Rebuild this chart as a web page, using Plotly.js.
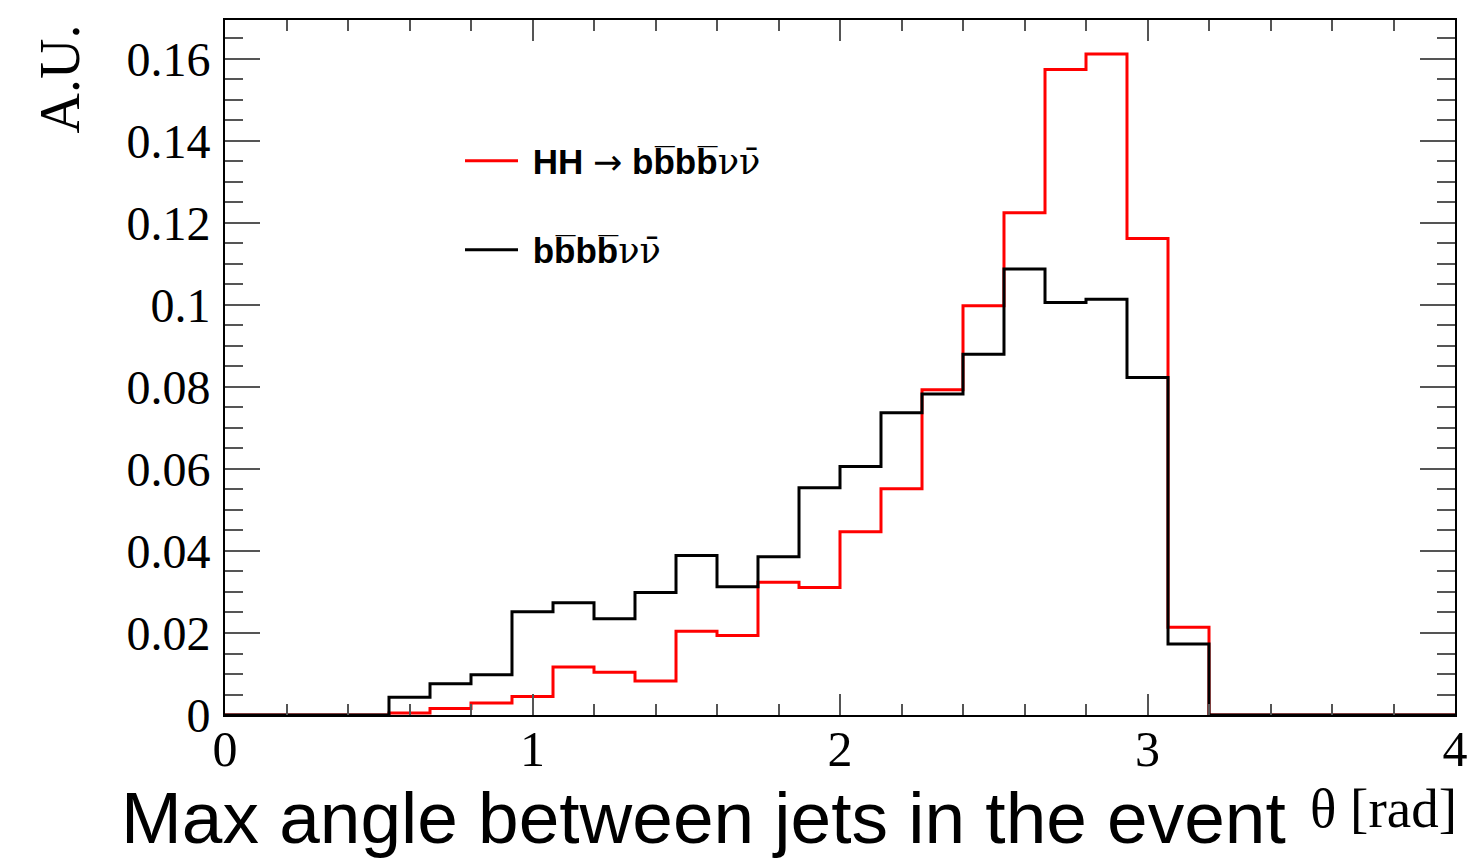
<!DOCTYPE html>
<html>
<head>
<meta charset="utf-8">
<script src="https://cdn.plot.ly/plotly-3.0.1.min.js"></script>
<style>
  html, body { margin: 0; padding: 0; background: #ffffff; }
  #chart { width: 1476px; height: 859px; }
</style>
</head>
<body>
<div id="chart"></div>
<script>
// Lower edges of the filled bins (bin width 4/30 rad), plus the final upper edge
const binEdges = [0.5333, 0.6667, 0.8, 0.9333, 1.0667, 1.2, 1.3333, 1.4667, 1.6, 1.7333,
                  1.8667, 2.0, 2.1333, 2.2667, 2.4, 2.5333, 2.6667, 2.8, 2.9333, 3.0667, 3.2];

// Normalised bin contents (A.U.)
const signalHH = [0.0005, 0.0016, 0.0029, 0.0045, 0.0117, 0.0104, 0.0083, 0.0204, 0.0194, 0.0324,
                  0.0311, 0.0447, 0.0552, 0.0793, 0.0998, 0.1225, 0.1574, 0.1612, 0.1162, 0.0214];
const background = [0.0043, 0.0076, 0.0098, 0.0252, 0.0274, 0.0235, 0.0299, 0.0389, 0.0313, 0.0386,
                    0.0554, 0.0606, 0.0737, 0.0783, 0.0880, 0.1088, 0.1006, 0.1014, 0.0823, 0.0173];

const xRange = [0, 4];
const yRange = [0, 0.1695];
const yTicks = [0, 0.02, 0.04, 0.06, 0.08, 0.1, 0.12, 0.14, 0.16];
const yTickText = ['0', '0.02', '0.04', '0.06', '0.08', '0.1', '0.12', '0.14', '0.16'];

const arrow = '<span style="font-family:DejaVu Sans">\u2192</span>';
const bbbb = '<b>bb\u0305bb\u0305</b>';
const nunu = '<span style="font-family:DejaVu Serif">\u03bd\u03bd\u0304</span>';
const labelHH = '\u00a0<b>HH</b> ' + arrow + ' ' + bbbb + nunu;
const labelBkg = '\u00a0' + bbbb + nunu;

// Turn bin contents into a histogram outline running along zero outside the filled range
function stepOutline(edges, values) {
  const x = [xRange[0]];
  const y = [0];
  for (let i = 0; i < values.length; i++) {
    x.push(edges[i]);
    y.push(values[i]);
  }
  x.push(edges[edges.length - 1]);
  y.push(0);
  x.push(xRange[1]);
  y.push(0);
  return { x, y };
}

const hh = stepOutline(binEdges, signalHH);
const bkg = stepOutline(binEdges, background);

const traces = [
  {
    type: 'scatter', mode: 'lines', name: labelHH,
    x: hh.x, y: hh.y,
    line: { shape: 'hv', color: '#ff0000', width: 3 },
    legend: 'legend', hoverinfo: 'skip'
  },
  {
    type: 'scatter', mode: 'lines', name: labelBkg,
    x: bkg.x, y: bkg.y,
    line: { shape: 'hv', color: '#000000', width: 3 },
    legend: 'legend2', hoverinfo: 'skip'
  }
];

const serif = 'Liberation Serif, Times New Roman, serif';
const plotW = 1230, plotH = 695;

const legendBase = {
  bgcolor: 'rgba(0,0,0,0)', borderwidth: 0,
  font: { family: 'Liberation Sans, Arial, sans-serif', size: 35, color: '#000' },
  xanchor: 'left', yanchor: 'middle', itemwidth: 53
};

const layout = {
  width: 1476, height: 859,
  margin: { l: 225, r: 21, t: 20, b: 144 },
  paper_bgcolor: '#ffffff', plot_bgcolor: '#ffffff',
  showlegend: true,
  legend: Object.assign({}, legendBase, { x: (460 - 225) / plotW, y: (715 - 161) / plotH }),
  legend2: Object.assign({}, legendBase, { x: (460 - 225) / plotW, y: (715 - 250) / plotH }),
  xaxis: {
    range: xRange, dtick: 1, tick0: 0,
    showgrid: false, zeroline: false,
    showline: true, linecolor: '#000', linewidth: 2, mirror: 'allticks',
    ticks: 'inside', ticklen: 21, tickwidth: 2, tickcolor: '#555',
    minor: { dtick: 0.2, ticks: 'inside', ticklen: 11, tickwidth: 2, tickcolor: '#555', showgrid: false },
    tickfont: { family: serif, size: 50, color: '#000' },
    ticklabelstandoff: -11
  },
  yaxis: {
    range: yRange, tickvals: yTicks, ticktext: yTickText,
    showgrid: false, zeroline: false,
    showline: true, linecolor: '#000', linewidth: 2, mirror: 'allticks',
    ticks: 'inside', ticklen: 35, tickwidth: 2, tickcolor: '#555',
    minor: { dtick: 0.005, ticks: 'inside', ticklen: 18, tickwidth: 2, tickcolor: '#555', showgrid: false },
    tickfont: { family: serif, size: 48, color: '#000' },
    ticklabelstandoff: 3
  },
  annotations: [
    {
      text: 'Max angle between jets in the event',
      xref: 'paper', yref: 'paper',
      x: (120 - 225) / plotW, y: (715 - 859) / plotH,
      xanchor: 'left', yanchor: 'bottom', showarrow: false, borderpad: 0,
      font: { family: 'Liberation Sans, Arial, sans-serif', size: 73, color: '#000' }
    },
    {
      text: '\u03b8 [rad]',
      xref: 'paper', yref: 'paper',
      x: (1459 - 225) / plotW, y: (715 - 808) / plotH,
      xanchor: 'right', yanchor: 'middle', showarrow: false,
      font: { family: serif, size: 55, color: '#000' }
    },
    {
      text: 'A.U.',
      xref: 'paper', yref: 'paper', textangle: -90,
      x: (59 - 225) / plotW, y: (715 - 23) / plotH,
      xanchor: 'center', yanchor: 'top', showarrow: false,
      font: { family: serif, size: 56, color: '#000' }
    }
  ]
};

Plotly.newPlot('chart', traces, layout, { displayModeBar: false, staticPlot: true });
</script>
</body>
</html>
